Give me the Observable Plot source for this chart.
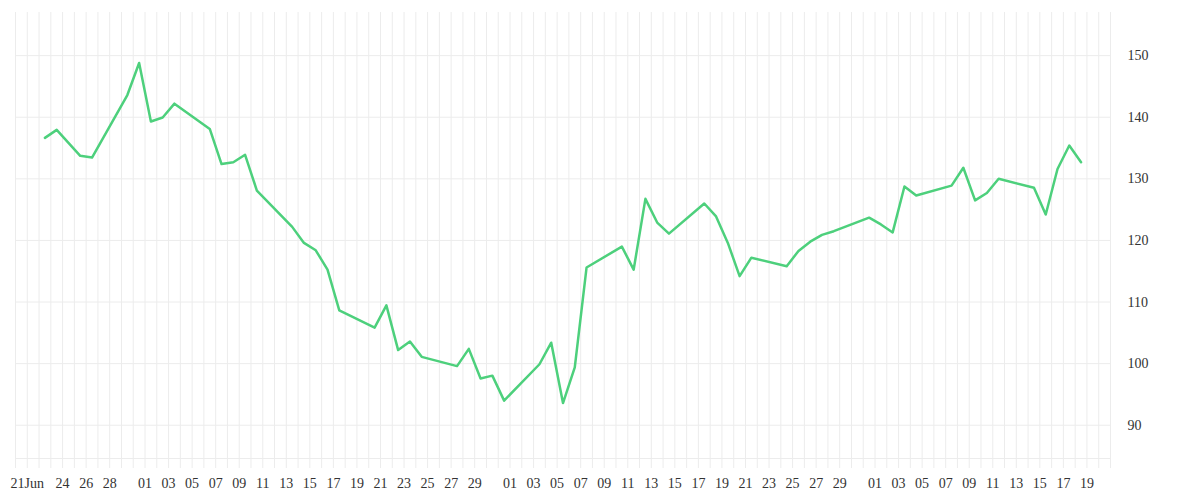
<!DOCTYPE html>
<html><head><meta charset="utf-8">
<script src="https://cdn.jsdelivr.net/npm/d3@7"></script>
<script src="https://cdn.jsdelivr.net/npm/@observablehq/plot@0.6"></script>
<style>body{margin:0;background:#fff;}</style>
</head><body><div id="chart"></div>
<script>
// trading days (2020) and closing values
const dates = [
  "2020-06-22","2020-06-23","2020-06-24","2020-06-25","2020-06-26",
  "2020-06-29","2020-06-30","2020-07-01","2020-07-02","2020-07-03",
  "2020-07-06","2020-07-07","2020-07-08","2020-07-09","2020-07-10",
  "2020-07-13","2020-07-14","2020-07-15","2020-07-16","2020-07-17",
  "2020-07-20","2020-07-21","2020-07-22","2020-07-23","2020-07-24",
  "2020-07-27","2020-07-28","2020-07-29","2020-07-30","2020-07-31",
  "2020-08-03","2020-08-04","2020-08-05","2020-08-06","2020-08-07",
  "2020-08-10","2020-08-11","2020-08-12","2020-08-13","2020-08-14",
  "2020-08-17","2020-08-18","2020-08-19","2020-08-20","2020-08-21",
  "2020-08-24","2020-08-25","2020-08-26","2020-08-27","2020-08-28",
  "2020-08-31","2020-09-01","2020-09-02","2020-09-03","2020-09-04",
  "2020-09-07","2020-09-08","2020-09-09","2020-09-10","2020-09-11",
  "2020-09-14","2020-09-15","2020-09-16","2020-09-17","2020-09-18"
];
const values = [
  136.65, 137.95, 135.85, 133.74, 133.46,
  143.6, 148.8, 139.3, 139.95, 142.2,
  138.1, 132.4, 132.7, 133.9, 128.1,
  122.2, 119.6, 118.4, 115.25, 108.65,
  105.85, 109.45, 102.2, 103.6, 101.1,
  99.6, 102.4, 97.6, 98.05, 94.0,
  99.9, 103.4, 93.6, 99.4, 115.6,
  119.0, 115.25, 126.75, 122.9, 121.1,
  126.0, 123.9, 119.6, 114.2, 117.2,
  115.8, 118.3, 119.8, 120.9, 121.5,
  123.7, 122.6, 121.3, 128.75, 127.3,
  128.9, 131.8, 126.5, 127.7, 130.0,
  128.55, 124.2, 131.6, 135.4, 132.7
];
const yTicks = [90, 100, 110, 120, 130, 140, 150];
const xLabelDates = [
  "2020-06-21","2020-06-24","2020-06-26","2020-06-28",
  "2020-07-01","2020-07-03","2020-07-05","2020-07-07","2020-07-09","2020-07-11","2020-07-13","2020-07-15",
  "2020-07-17","2020-07-19","2020-07-21","2020-07-23","2020-07-25","2020-07-27","2020-07-29",
  "2020-08-01","2020-08-03","2020-08-05","2020-08-07","2020-08-09","2020-08-11","2020-08-13","2020-08-15",
  "2020-08-17","2020-08-19","2020-08-21","2020-08-23","2020-08-25","2020-08-27","2020-08-29",
  "2020-09-01","2020-09-03","2020-09-05","2020-09-07","2020-09-09","2020-09-11","2020-09-13","2020-09-15",
  "2020-09-17","2020-09-19"
];
const xDomain = ["2020-06-20", "2020-09-21"];
const yDomain = [84.6, 157];

const day = s => new Date(s + "T00:00Z");
const data = dates.map((d, i) => ({date: new Date(d + "T12:00Z"), value: values[i]}));
const gridDays = d3.utcDay.range(day(xDomain[0]), d3.utcDay.offset(day(xDomain[1]), 1));
const labelDays = xLabelDates.map(day);
const fmtFirst = d3.utcFormat("%d%b"), fmtDay = d3.utcFormat("%d");
const gridColor = "#ececec";

const chart = Plot.plot({
  width: 1200,
  height: 500,
  marginLeft: 15,
  marginRight: 90,
  marginTop: 12,
  marginBottom: 42,
  style: {fontFamily: "'Liberation Serif', serif", fontSize: "14px", color: "#333", background: "#fff"},
  x: {type: "utc", domain: xDomain.map(day), label: null},
  y: {domain: yDomain, label: null},
  marks: [
    Plot.gridX(gridDays, {stroke: gridColor, strokeOpacity: 1}),
    Plot.gridY(yTicks, {stroke: gridColor, strokeOpacity: 1}),
    Plot.frame({anchor: "bottom", stroke: gridColor}),
    Plot.axisX(gridDays, {tickSize: 10, stroke: gridColor, text: null, label: null}),
    Plot.axisX(labelDays, {tickSize: 0, tickPadding: 20, label: null, tickFormat: (d, i) => i === 0 ? fmtFirst(d) : fmtDay(d)}),
    Plot.axisY(yTicks, {anchor: "right", tickSize: 0, tickPadding: 17, label: null}),
    Plot.line(data, {x: "date", y: "value", stroke: "#4dd07c", strokeWidth: 2.5})
  ]
});
document.getElementById("chart").appendChild(chart);
</script>
</body></html>
